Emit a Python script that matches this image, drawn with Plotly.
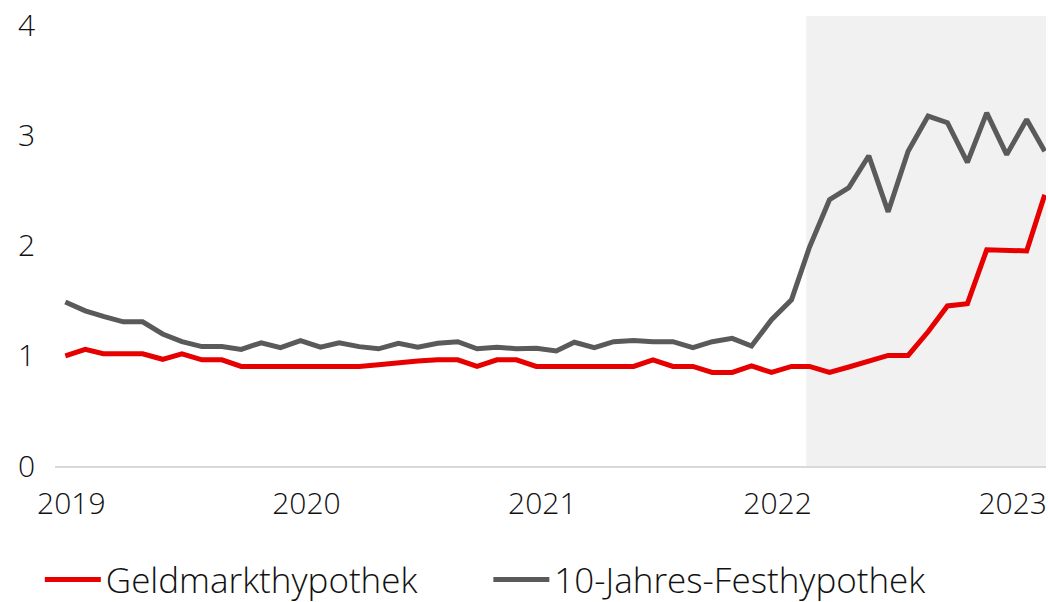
import plotly.graph_objects as go

# monthly observations, Jan 2019 - Mar 2023
months = [f'{y}-{m:02d}-01' for y in range(2019, 2024) for m in range(1, 13)][:51]

geldmarkt = [
    1.00, 1.06, 1.02, 1.02, 1.02, 0.97, 1.02, 0.965, 0.965, 0.905,
    0.905, 0.905, 0.905, 0.905, 0.905, 0.905, 0.92, 0.94, 0.955, 0.965,
    0.965, 0.905, 0.965, 0.965, 0.905, 0.905, 0.905, 0.91, 0.915, 0.905,
    0.965, 0.905, 0.905, 0.85, 0.85, 0.91, 0.85, 0.905, 0.905, 0.85,
    0.90, 0.95, 1.005, 1.005, 1.22, 1.455, 1.475, 1.965, 1.965, 1.955,
    2.465,
]
fest_10j = [
    1.49, 1.41, 1.36, 1.31, 1.31, 1.20, 1.13, 1.085, 1.085, 1.06,
    1.12, 1.075, 1.14, 1.08, 1.12, 1.085, 1.065, 1.115, 1.08, 1.115,
    1.13, 1.065, 1.08, 1.065, 1.07, 1.045, 1.125, 1.075, 1.13, 1.14,
    1.13, 1.13, 1.075, 1.13, 1.16, 1.09, 1.33, 1.51, 1.99, 2.42,
    2.53, 2.82, 2.31, 2.86, 3.18, 3.12, 2.76, 3.21, 2.83, 3.15,
    2.86,
]
year_ticks = ['2019-01-01', '2020-01-01', '2021-01-01', '2022-01-01', '2023-01-01']
year_labels = ['2019', '2020', '2021', '2022', '2023']
shade_start = '2022-02-24'
x_range = ['2018-12-16', '2023-03-03']

RED = '#e60000'
GREY = '#5a5a5a'
FONT = 'Open Sans'

fig = go.Figure()
fig.add_shape(type='rect', xref='x', yref='paper', x0=shade_start, x1=x_range[1], y0=0, y1=1,
              fillcolor='#f1f1f1', line_width=0, layer='below')

fig.add_trace(go.Scatter(x=months, y=geldmarkt, mode='lines', name='Geldmarkthypothek',
                         line=dict(color=RED, width=5), legend='legend'))
fig.add_trace(go.Scatter(x=months, y=fest_10j, mode='lines', name='10-Jahres-Festhypothek',
                         line=dict(color=GREY, width=5), legend='legend2'))

legend_style = dict(orientation='h', xref='container', yref='container', yanchor='middle', y=0.037,
                    xanchor='left', itemwidth=56, bgcolor='rgba(0,0,0,0)',
                    font=dict(family=FONT, size=35, color='#111111', weight=300))

fig.update_layout(
    width=1048, height=602,
    margin=dict(l=55, r=2, t=16, b=136, autoexpand=False),
    paper_bgcolor='white', plot_bgcolor='white',
    font=dict(family=FONT, size=30, color='#111111', weight=300),
    showlegend=True,
    legend=dict(legend_style, x=0.038),
    legend2=dict(legend_style, x=0.466),
    xaxis=dict(range=x_range, type='date', tickvals=year_ticks, ticktext=year_labels, automargin=False,
               showgrid=False, zeroline=False, showline=True, linecolor='#d9d9d9', linewidth=2,
               ticks='', ticklabelstandoff=10, ticklabelshift=6,
               tickfont=dict(size=30, weight=300)),
    yaxis=dict(range=[0, 4.09], tickvals=[0, 1, 2, 3, 4], showgrid=False, zeroline=False, automargin=False,
               showline=False, ticks='', ticklabelstandoff=19, tickfont=dict(size=30, weight=300)),
)

# the page's default body margin would push the figure off the window edge
fig.write_html('out.html', config={'displayModeBar': False},
               post_script="document.body.style.margin = '0';")
